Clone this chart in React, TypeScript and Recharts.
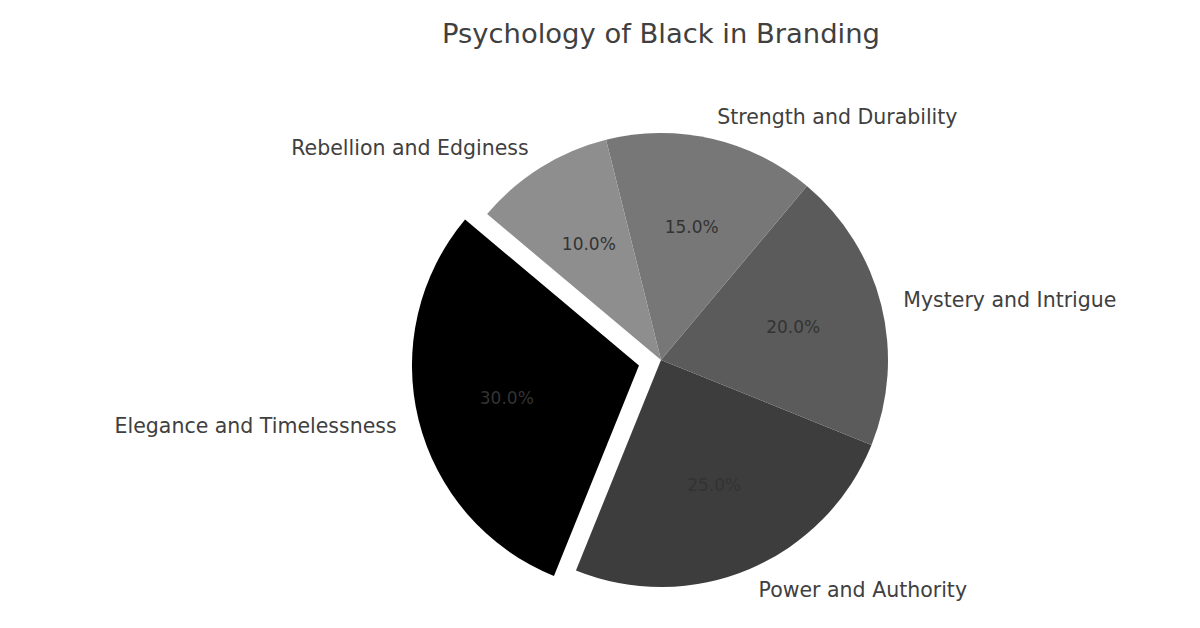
import { PieChart, Pie, Cell } from "recharts"

const categories = [
  "Elegance and Timelessness",
  "Power and Authority",
  "Mystery and Intrigue",
  "Strength and Durability",
  "Rebellion and Edginess",
]
const shares = [30, 25, 20, 15, 10]
const sliceColors = ["#000000", "#3d3d3d", "#5b5b5b", "#777777", "#8e8e8e"]
const exploded = [0.1, 0, 0, 0, 0]

const data = categories.map((name, i) => ({ name, value: shares[i] }))

const WIDTH = 1200
const HEIGHT = 628
const CX = 661
const CY = 360
const R = 227
const START = 140
const FONT = "'DejaVu Sans', sans-serif"
const RAD = Math.PI / 180

// matplotlib-style labels: name at 1.1r, percentage at 0.6r
const makeLabel = (onlyExploded: boolean) => (props: any) => {
  const { cx, cy, midAngle, outerRadius, percent, index, name } = props
  if ((exploded[index] > 0) !== onlyExploded) return null
  const cos = Math.cos(-midAngle * RAD)
  const sin = Math.sin(-midAngle * RAD)
  const lx = cx + outerRadius * 1.1 * cos
  const ly = cy + outerRadius * 1.1 * sin
  const px = cx + outerRadius * 0.6 * cos
  const py = cy + outerRadius * 0.6 * sin
  return (
    <g key={`lbl-${index}`}>
      <text
        x={lx}
        y={ly}
        textAnchor={cos > 0 ? "start" : "end"}
        dominantBaseline="central"
        fontFamily={FONT}
        fontSize={20.5}
        fill="#404040"
      >
        {name}
      </text>
      <text
        x={px}
        y={py}
        textAnchor="middle"
        dominantBaseline="central"
        fontFamily={FONT}
        fontSize={17}
        fill="#333333"
      >
        {(percent * 100).toFixed(1)}%
      </text>
    </g>
  )
}

export default function App() {
  // offset of the exploded slice along its mid angle
  const total = shares.reduce((a, b) => a + b, 0)
  const mid = START + (shares[0] / total) * 360 / 2
  const off = exploded[0] * R
  const ex = CX + off * Math.cos(mid * RAD)
  const ey = CY - off * Math.sin(mid * RAD)

  return (
    <div style={{ position: "absolute", left: 0, top: 0, width: WIDTH, height: HEIGHT, background: "#fff" }}>
      <PieChart width={WIDTH} height={HEIGHT} margin={{ top: 0, right: 0, bottom: 0, left: 0 }}>
        <text
          x={661}
          y={33}
          textAnchor="middle"
          dominantBaseline="central"
          fontFamily={FONT}
          fontSize={27.4}
          fill="#404040"
        >
          Psychology of Black in Branding
        </text>
        <Pie
          data={data}
          dataKey="value"
          nameKey="name"
          cx={CX}
          cy={CY}
          outerRadius={R}
          startAngle={START}
          endAngle={START + 360}
          stroke="none"
          labelLine={false}
          label={makeLabel(false)}
          isAnimationActive={false}
        >
          {data.map((d, i) => (
            <Cell key={d.name} fill={exploded[i] > 0 ? "none" : sliceColors[i]} />
          ))}
        </Pie>
        <Pie
          data={data}
          dataKey="value"
          nameKey="name"
          cx={ex}
          cy={ey}
          outerRadius={R}
          startAngle={START}
          endAngle={START + 360}
          stroke="none"
          labelLine={false}
          label={makeLabel(true)}
          isAnimationActive={false}
        >
          {data.map((d, i) => (
            <Cell key={d.name} fill={exploded[i] > 0 ? sliceColors[i] : "none"} />
          ))}
        </Pie>
      </PieChart>
    </div>
  )
}
